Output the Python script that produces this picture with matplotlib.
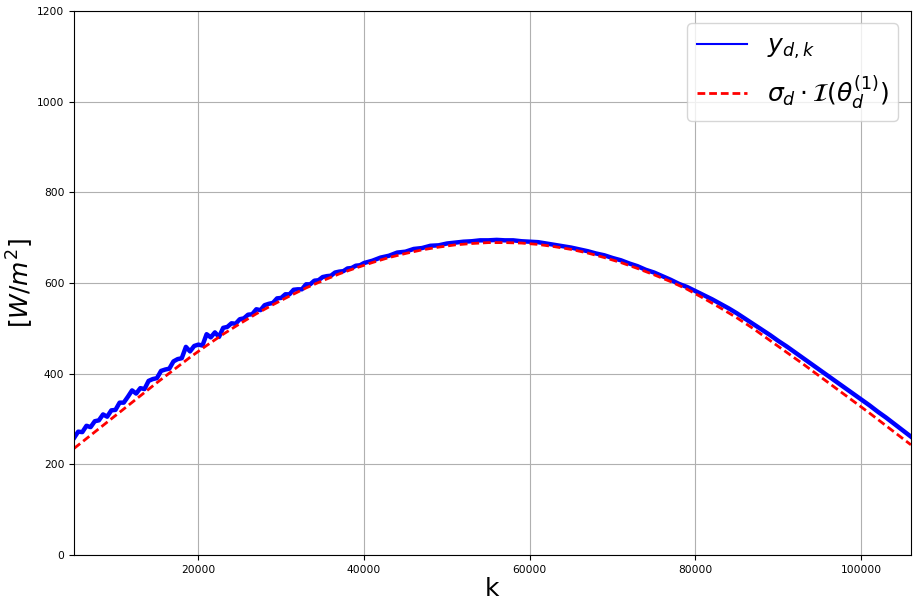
import matplotlib
matplotlib.use('Agg')
import matplotlib.pyplot as plt

k_meas = list(range(5000, 40500, 500)) + list(range(41000, 107000, 1000))
y_meas = [258, 272, 271, 285, 282, 295, 297, 310, 305, 319,
          320, 336, 336, 349, 363, 356, 368, 366, 384, 388,
          390, 406, 409, 411, 427, 432, 434, 459, 449, 461,
          464, 462, 487, 480, 491, 481, 501, 503, 511, 510,
          520, 522, 530, 531, 542, 540, 551, 554, 556, 566,
          567, 575, 575, 585, 586, 586, 597, 597, 605, 606,
          613, 615, 616, 623, 625, 626, 632, 633, 638, 639,
          644,
          649, 656, 660, 667, 669, 675, 677, 682, 683, 687,
          689, 691, 692, 694, 694, 695, 694, 694, 692, 691,
          690, 687, 684, 681, 678, 674, 670, 665, 661, 655,
          650, 643, 637, 629, 623, 615, 607, 598, 591, 582,
          573, 564, 554, 544, 533, 521, 509, 497, 485, 472,
          460, 447, 434, 421, 408, 395, 382, 369, 356, 343,
          330, 316, 303, 289, 275, 261]

# model curve sigma_d * I(theta_d^(1))
k_model = list(range(5000, 106000, 2000)) + [106000]
y_model = [235, 264, 293, 322, 351, 380, 408, 436, 462, 487,
           510, 532, 552, 571, 589, 605, 620, 633, 645, 656,
           665, 673, 679, 684, 687, 689, 689, 688, 685, 680,
           674, 666, 656, 645, 632, 618, 603, 586, 566, 545,
           523, 499, 473, 447, 421, 394, 367, 340, 313, 285,
           257, 243]

fig = plt.figure(figsize=(9.22, 6.07), dpi=100)
ax = fig.add_axes([0.0803, 0.0857, 0.9077, 0.8963])

ax.plot(k_meas, y_meas, color='blue', lw=3.2, label=r'$y_{d,k}$')
ax.plot(k_model, y_model, color='red', lw=2, linestyle='--', dashes=(2.8, 1.4),
        label=r'$\sigma_d \cdot \mathcal{I}(\theta_d^{(1)})$')

ax.set_xlim(5000, 106000)
ax.set_ylim(0, 1200)
ax.set_xticks([20000, 40000, 60000, 80000, 100000])
ax.set_yticks(range(0, 1201, 200))
ax.tick_params(labelsize=7.7)
ax.grid(True, color='#b0b0b0', lw=0.8)

ax.set_xlabel('k', fontsize=18, labelpad=2)
ax.set_ylabel(r'$[W/m^2]$', fontsize=18, labelpad=1)

leg = ax.legend(loc='upper right', fontsize=18)
leg.get_lines()[0].set_linewidth(1.5)

fig.savefig('out.png', dpi=100)
